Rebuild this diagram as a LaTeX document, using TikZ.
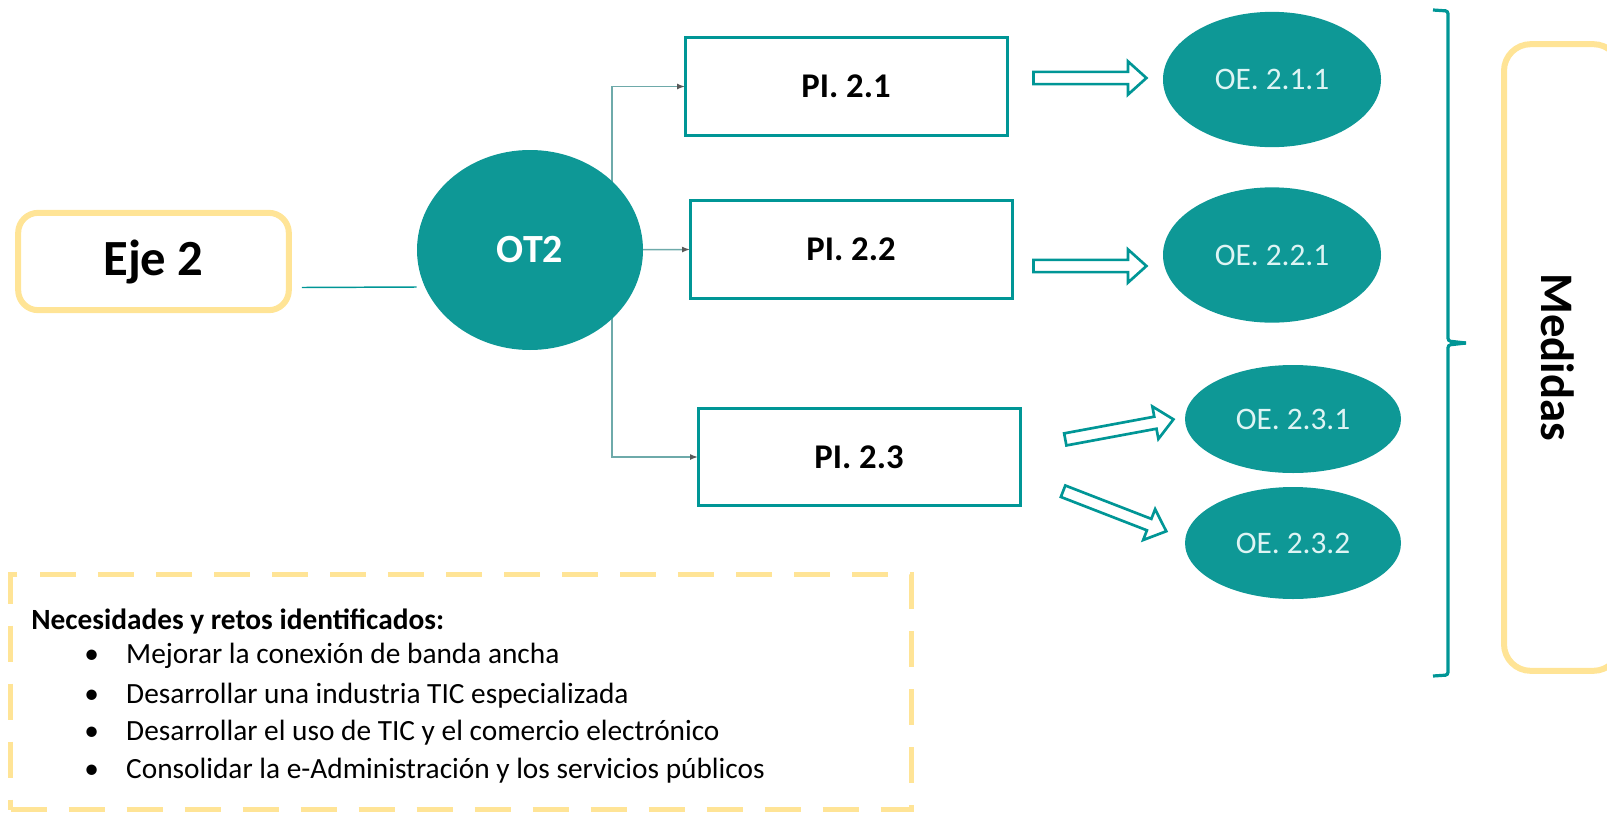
\documentclass[tikz,border=0pt]{standalone}
\usepackage{fontspec}
\setmainfont{Carlito}
\usetikzlibrary{arrows.meta,shapes.geometric,shapes.arrows,backgrounds}
\definecolor{tealc}{RGB}{0,150,150}
\definecolor{tealfill}{RGB}{14,152,150}
\definecolor{yel}{RGB}{255,228,150}
\definecolor{conng}{RGB}{110,170,170}
\definecolor{oetext}{RGB}{222,244,244}
\tikzset{
  pibox/.style={draw=tealc,line width=2.25pt,fill=white,minimum width=241.5pt,minimum height=73pt,inner sep=0pt,outer sep=0pt,font=\bfseries\fontsize{26}{30}\selectfont},
  oe/.style={ellipse,fill=tealfill,inner sep=0pt,outer sep=0pt,text=oetext,font=\fontsize{23.5}{28}\selectfont},
  conn/.style={draw=conng,line width=1.1pt,-{Latex[length=6pt,width=4.5pt,color=black!65]}},
  hollow/.style={single arrow,draw=tealc,line width=2pt,fill=white,inner xsep=0pt,inner ysep=3.6pt,single arrow head extend=7.8pt,single arrow tip angle=84},
  yelbox/.style={draw=yel,line width=4.5pt,rounded corners=15pt,inner sep=0pt},
  itemtxt/.style={anchor=base west,inner sep=0pt,font=\fontsize{22}{26}\selectfont},
}
\begin{document}
\begin{tikzpicture}[x=0.75pt,y=-0.75pt]
\useasboundingbox (0,0) rectangle (1607,814);
% Eje 2
\node[yelbox,minimum width=203pt,minimum height=73pt,font=\bfseries\fontsize{38}{44}\selectfont] (eje) at (153.5,261.5) {Eje 2};
% OT2
\node[ellipse,fill=tealfill,minimum width=169.5pt,minimum height=150pt,inner sep=0pt,text=white,font=\bfseries\fontsize{30}{34}\selectfont] (ot2) at (530,250) {OT2};
% PI boxes
\node[pibox] (pi1) at (846,86.5) {PI. 2.1};
\node[pibox,minimum height=74pt] (pi2) at (851,249.5) {PI. 2.2};
\node[pibox] (pi3) at (859,457) {PI. 2.3};
% OE ellipses
\node[oe,minimum width=163.5pt,minimum height=101.5pt] (oe1) at (1272,79.5) {OE. 2.1.1};
\node[oe,minimum width=163.5pt,minimum height=101.5pt] (oe2) at (1272,255) {OE. 2.2.1};
\node[oe,minimum width=162pt,minimum height=81pt] (oe3) at (1293,419) {OE. 2.3.1};
\node[oe,minimum width=162pt,minimum height=84pt] (oe4) at (1293,543) {OE. 2.3.2};
% connectors
\coordinate (vx) at (612,250);
\coordinate (ej) at (302,287);
\begin{scope}[on background layer]
\draw[tealc,line width=1.1pt] ([xshift=7.5pt,yshift=-19.5pt]eje.east) -- (ej -| ot2.west);
\draw[conn] (ot2.center -| vx) -- (vx |- pi1.west) -- (pi1.west);
\draw[conn] (ot2.center) -- (pi2.west);
\draw[conn] (ot2.center -| vx) -- (vx |- pi3.west) -- (pi3.west);
\end{scope}
% hollow block arrows
\node[hollow,minimum height=84.75pt] (h1) at (1086.5,78) {};
\node[hollow,minimum height=84.75pt] (h2) at (1086.5,266) {};
\node[hollow,minimum height=82.5pt,rotate=10.5] (h3) at (1116,430) {};
\node[hollow,minimum height=83pt,rotate=-21.2] (h4) at (1111.5,510) {};
% brace
\draw[tealc,line width=2.4pt,rounded corners=2pt] (1433,10) -- (1448,11) -- (1448,341) -- (1466,343);
\draw[tealc,line width=2.4pt,rounded corners=2pt] (1466,343) -- (1448,345) -- (1448,675) -- (1433,676);
% Medidas
\node[yelbox,rounded corners=20pt,minimum width=87pt,minimum height=470pt] (medbox) at (1562,357.5) {};
\node[rotate=-90,font=\bfseries\fontsize{35}{40}\selectfont] (med) at (1558,357) {Medidas};
% dashed box
\node[draw=yel,line width=3.75pt,dash pattern=on 27pt off 16.5pt,minimum width=675.75pt,minimum height=176.25pt,inner sep=0pt] (nbox) at (461,692) {};
\node[itemtxt,font=\bfseries\fontsize{22}{26}\selectfont] (h) at (31,629) {Necesidades y retos identificados:};
\node[itemtxt] (i1) at (84,663) {\makebox[31.5pt][l]{•}Mejorar la conexión de banda ancha};
\node[itemtxt] (i2) at (84,703) {\makebox[31.5pt][l]{•}Desarrollar una industria TIC especializada};
\node[itemtxt] (i3) at (84,740) {\makebox[31.5pt][l]{•}Desarrollar el uso de TIC y el comercio electrónico};
\node[itemtxt] (i4) at (84,778) {\makebox[31.5pt][l]{•}Consolidar la e-Administración y los servicios públicos};
\end{tikzpicture}
\end{document}
